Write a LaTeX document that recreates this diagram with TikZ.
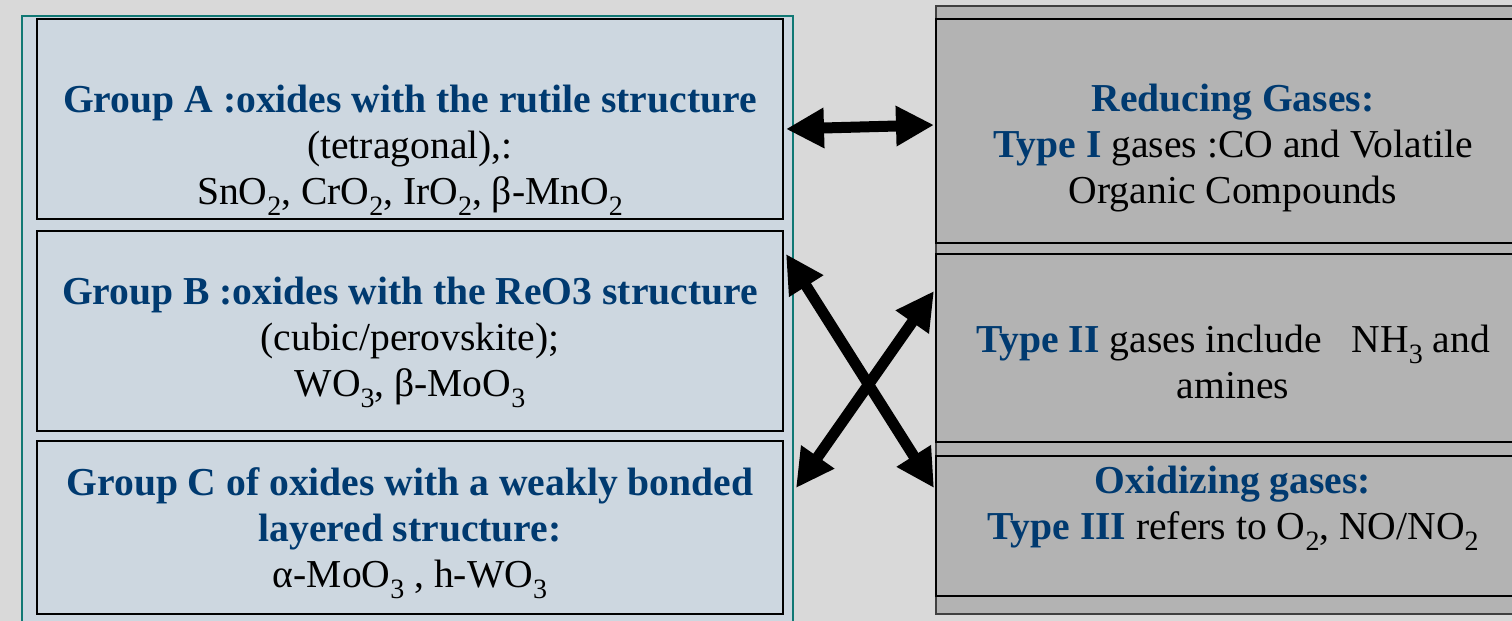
\documentclass[tikz,border=0pt]{standalone}
\usepackage{fontspec}
\setmainfont{Liberation Serif}
\usepackage{xcolor}
\usetikzlibrary{arrows.meta}
\usetikzlibrary{calc}
\definecolor{bgcol}{RGB}{217,217,217}
\definecolor{leftcol}{RGB}{205,215,224}
\definecolor{rightcol}{RGB}{179,179,179}
\definecolor{tealcol}{RGB}{16,120,116}
\definecolor{titlecol}{RGB}{0,58,112}
\newcommand{\bluebf}[1]{\textcolor{titlecol}{\textbf{#1}}}
\newcommand{\chemsub}[1]{\raisebox{-5.5pt}{\fontsize{14}{14}\selectfont #1}}

\begin{document}
\begin{tikzpicture}[x=0.5pt,y=-0.5pt,
	oxbox/.style={draw=black, line width=1pt, fill=leftcol, minimum width=373pt, inner sep=0pt},
	gasbox/.style={draw=black, line width=1pt, fill=rightcol, minimum width=297pt, inner sep=0pt},
	boxtext/.style={align=center, inner sep=0pt, font=\fontsize{19.8}{23}\selectfont},
	dblarrow/.style={line width=5.5pt, {Triangle[length=19pt,width=19pt]}-{Triangle[length=19pt,width=19pt]}}]
	\fill [bgcol] (0,0) rectangle (1512,621);
	\clip (0,0) rectangle (1512,621);
	% panels
	\draw [fill=leftcol, draw=tealcol, line width=1pt] (22,16) rectangle (793,640);
	\draw [fill=rightcol, draw=black!75, line width=1pt] (936,6) rectangle (1530,614);
	% oxide groups
	\node [oxbox, minimum height=100pt] (grpA) at (410,119) {};
	\node [oxbox, minimum height=100pt] (grpB) at (410,331) {};
	\node [oxbox, minimum height=86.5pt] (grpC) at (410,527.5) {};
	\node [boxtext] (txtA) at (410,150) {\bluebf{Group A :oxides with the rutile structure}\\
		(tetragonal),:\\
		SnO\chemsub{2}, CrO\chemsub{2}, IrO\chemsub{2}, β-MnO\chemsub{2}};
	\node [boxtext] (txtB) at (410,342.5) {\bluebf{Group B :oxides with the ReO3 structure}\\
		(cubic/perovskite);\\
		WO\chemsub{3}, β-MoO\chemsub{3}};
	\node [boxtext] (txtC) at (410,533) {\bluebf{Group C of oxides with a weakly bonded}\\
		\bluebf{layered structure:}\\
		α-MoO\chemsub{3} , h-WO\chemsub{3}};
	% gas types
	\node [gasbox, minimum height=112pt] (redgas) at (1233,131) {};
	\node [gasbox, minimum height=94pt] (amgas) at (1233,348) {};
	\node [gasbox, minimum height=70pt] (oxgas) at (1233,526) {};
	\node [boxtext] (txtR) at (1233,148) {\bluebf{Reducing Gases:}\\
		\bluebf{Type I} gases :CO and Volatile\\
		Organic Compounds};
	\node [boxtext] (txtN) at (1233,362) {\bluebf{Type II} gases include\ \ \ NH\chemsub{3} and\\
		amines};
	\node [boxtext] (txtO) at (1233,508.5) {\bluebf{Oxidizing gases:}\\
		\bluebf{Type III} refers to O\chemsub{2}, NO/NO\chemsub{2}};
	% links
	\draw [dblarrow] ([shift={(2,10)}]grpA.east) -- ([shift={(-1,-6)}]redgas.west);
	\draw [dblarrow] ([shift={(2,24)}]grpB.north east) -- ([shift={(-1,33)}]oxgas.north west);
	\draw [dblarrow] ([shift={(12,48)}]grpC.north east) -- ([shift={(-1,38)}]amgas.north west);
\end{tikzpicture}
\end{document}
